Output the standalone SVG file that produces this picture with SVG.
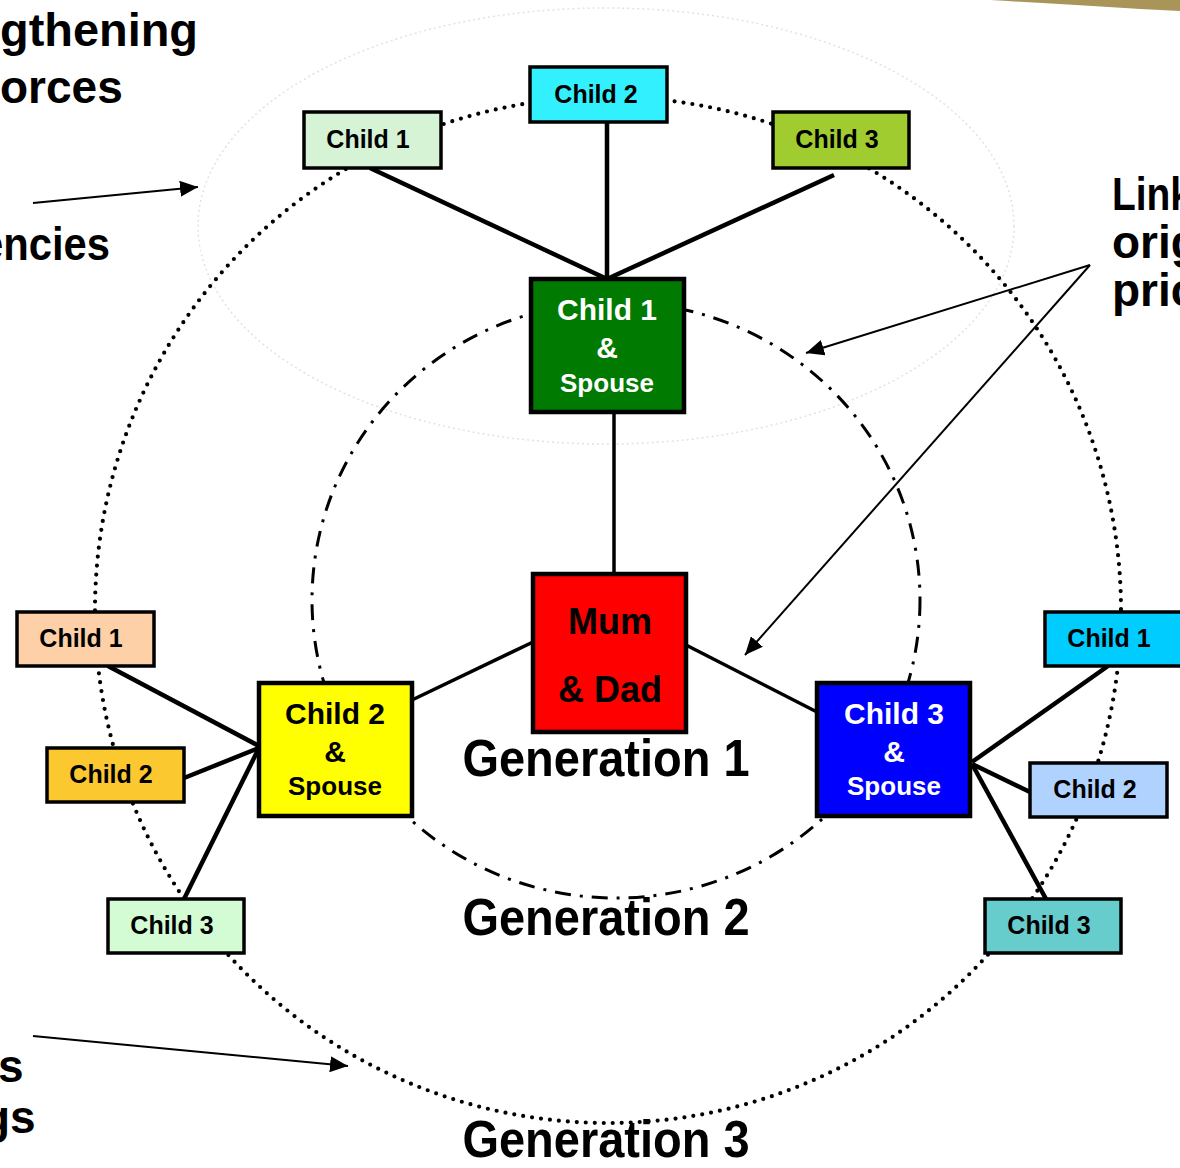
<svg xmlns="http://www.w3.org/2000/svg" width="1180" height="1168" viewBox="0 0 1180 1168">
<style>
text{font-family:"Liberation Sans",Arial,sans-serif;font-weight:bold;}
.box{stroke:#000;stroke-width:3.5;}
.big{stroke:#000;stroke-width:4.5;}
.lbl{font-size:25px;fill:#000;text-anchor:middle;}
.wl{font-size:30px;text-anchor:middle;}
.ws{font-size:26px;text-anchor:middle;}
.side{font-size:46px;fill:#000;}
.gen{font-size:47px;fill:#000;text-anchor:middle;}
.thick{stroke:#000;stroke-width:4.5;fill:none;}
.med{stroke:#000;stroke-width:3.5;fill:none;}
.thin{stroke:#000;stroke-width:2;fill:none;marker-end:url(#ah);}
</style>
<defs>
<marker id="ah" markerUnits="userSpaceOnUse" markerWidth="20" markerHeight="16" refX="18" refY="8" orient="auto">
<path d="M0,0 L18,8 L0,16 Z" fill="#000"/>
</marker>
</defs>
<rect width="1180" height="1168" fill="#fff"/>
<path d="M990,0 L1180,0 L1180,11 C1120,8 1060,4 990,0 Z" fill="#a08a48" opacity="0.9"/>
<ellipse cx="606" cy="226" rx="408" ry="218" fill="none" stroke="#e6e2d4" stroke-width="1.5" stroke-dasharray="2 3"/>
<ellipse cx="608" cy="610" rx="513" ry="513" fill="none" stroke="#000" stroke-width="4.2" stroke-linecap="round" stroke-dasharray="0 9"/>
<ellipse cx="616" cy="600" rx="304" ry="298" fill="none" stroke="#000" stroke-width="3" stroke-dasharray="16 9 3 9"/>
<g id="connectors">
<line class="thick" x1="370" y1="168" x2="607" y2="279"/>
<line class="thick" x1="607" y1="122" x2="607" y2="279"/>
<line class="thick" x1="834" y1="175" x2="607" y2="279"/>
<line class="med" x1="614" y1="412" x2="614" y2="574"/>
<line class="med" x1="533" y1="642" x2="412" y2="700"/>
<line class="med" x1="686" y1="645" x2="817" y2="712"/>
<line class="thick" x1="108" y1="666" x2="259" y2="746"/>
<line class="thick" x1="184" y1="778" x2="259" y2="748"/>
<line class="thick" x1="184" y1="899" x2="259" y2="748"/>
<line class="thick" x1="1108" y1="666" x2="972" y2="762"/>
<line class="thick" x1="1030" y1="792" x2="972" y2="764"/>
<line class="thick" x1="1046" y1="899" x2="972" y2="764"/>
<line class="thin" x1="33" y1="203" x2="198" y2="187"/>
<line class="thin" x1="33" y1="1036" x2="348" y2="1066"/>
<line class="thin" x1="1090" y1="265" x2="806" y2="353"/>
<line class="thin" x1="1090" y1="265" x2="745" y2="655"/>
</g>
<g id="top-child1"><rect class="box" x="304" y="112" width="137" height="56" fill="#d6f3d6"/><text class="lbl" x="368" y="148">Child 1</text></g>
<g id="top-child2"><rect class="box" x="530" y="67" width="137" height="55" fill="#33f0ff"/><text class="lbl" x="596" y="103">Child 2</text></g>
<g id="top-child3"><rect class="box" x="773" y="112" width="136" height="56" fill="#a0cc30"/><text class="lbl" x="837" y="148">Child 3</text></g>
<g id="child1-spouse"><rect class="big" x="531" y="279" width="153" height="133" fill="#007a00"/>
<text class="wl" x="607" y="320" fill="#fff">Child 1</text><text class="wl" x="607" y="358" fill="#fff">&amp;</text><text class="ws" x="607" y="392" fill="#fff">Spouse</text></g>
<g id="mum-dad"><rect class="big" x="533" y="574" width="153" height="158" fill="#ff0000"/>
<text x="610" y="634" font-size="36" text-anchor="middle" fill="#000">Mum</text><text x="610" y="702" font-size="36" text-anchor="middle" fill="#000">&amp; Dad</text></g>
<g id="child2-spouse"><rect class="big" x="259" y="683" width="153" height="133" fill="#ffff00"/>
<text class="wl" x="335" y="724" fill="#000">Child 2</text><text class="wl" x="335" y="762" fill="#000">&amp;</text><text class="ws" x="335" y="795" fill="#000">Spouse</text></g>
<g id="child3-spouse"><rect class="big" x="817" y="683" width="153" height="133" fill="#0000ff"/>
<text class="wl" x="894" y="724" fill="#fff">Child 3</text><text class="wl" x="894" y="762" fill="#fff">&amp;</text><text class="ws" x="894" y="795" fill="#fff">Spouse</text></g>
<g id="left-child1"><rect class="box" x="17" y="612" width="137" height="54" fill="#fdd0a8"/><text class="lbl" x="81" y="647">Child 1</text></g>
<g id="left-child2"><rect class="box" x="47" y="748" width="137" height="54" fill="#fcc830"/><text class="lbl" x="111" y="783">Child 2</text></g>
<g id="left-child3"><rect class="box" x="108" y="899" width="136" height="54" fill="#d4fcd4"/><text class="lbl" x="172" y="934">Child 3</text></g>
<g id="right-child1"><rect class="box" x="1045" y="612" width="140" height="54" fill="#00ccff"/><text class="lbl" x="1109" y="647">Child 1</text></g>
<g id="right-child2"><rect class="box" x="1030" y="763" width="137" height="54" fill="#b0d2ff"/><text class="lbl" x="1095" y="798">Child 2</text></g>
<g id="right-child3"><rect class="box" x="985" y="899" width="136" height="54" fill="#66cccc"/><text class="lbl" x="1049" y="934">Child 3</text></g>
<g id="labels">
<text class="gen" transform="translate(606,776) scale(1,1.1)">Generation 1</text>
<text class="gen" transform="translate(606,935) scale(1,1.1)">Generation 2</text>
<text class="gen" transform="translate(606,1157) scale(1,1.1)">Generation 3</text>
<text class="side" x="0" y="46" textLength="198" lengthAdjust="spacingAndGlyphs">gthening</text>
<text class="side" x="0" y="103">orces</text>
<text class="side" x="-20" y="260" textLength="130" lengthAdjust="spacingAndGlyphs">encies</text>
<text class="side" x="-2" y="1082">s</text>
<text class="side" x="-18" y="1133">gs</text>
<text class="side" x="1112" y="210" textLength="80" lengthAdjust="spacingAndGlyphs">Link</text>
<text class="side" x="1112" y="258">orig</text>
<text class="side" x="1112" y="306">pric</text>
</g>
</svg>
